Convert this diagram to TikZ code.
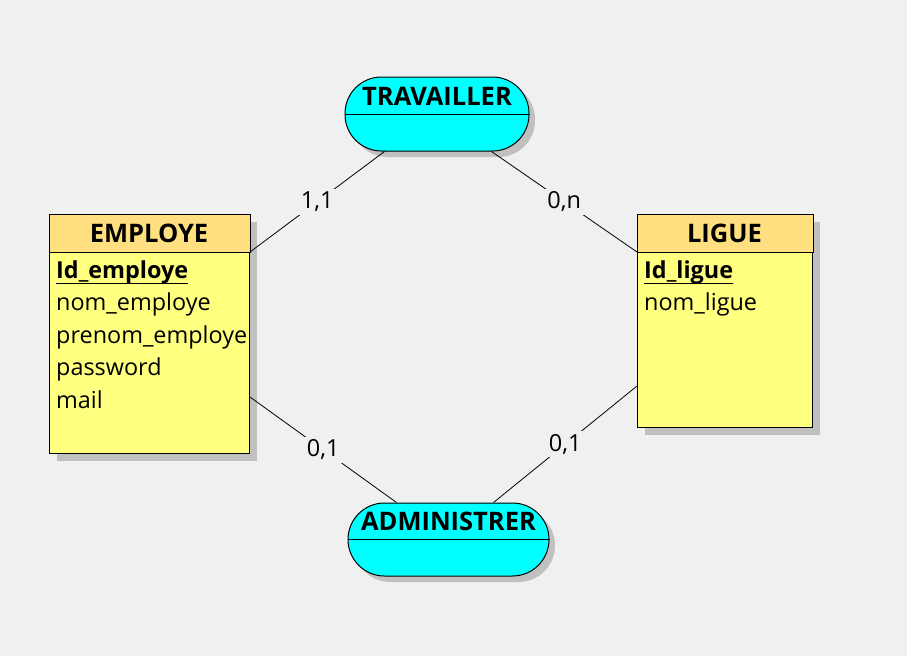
\documentclass[tikz,border=0pt]{standalone}
\usepackage{fontspec}
\setmainfont{Open Sans}
\usetikzlibrary{calc}
\definecolor{bg}{HTML}{F0F0F0}
\definecolor{hdr}{HTML}{FFDF80}
\definecolor{bodyc}{HTML}{FFFF80}
\definecolor{shad}{HTML}{C0C0C0}
\definecolor{relc}{HTML}{00FFFF}
\tikzset{
  entbox/.style={draw=black, fill=bodyc, line width=1pt, anchor=north west, inner sep=0pt},
  relbox/.style={draw=black, fill=relc, line width=1pt, rounded corners=36.5pt, inner sep=0pt},
  title/.style={font=\fontsize{25.5}{30}\selectfont\bfseries, inner sep=0pt},
  attr/.style={anchor=base west, inner sep=0pt},
  card/.style={fill=bg, inner sep=3pt, font=\fontsize{23.5}{28}\selectfont},
  link/.style={draw=black, line width=0.8pt}
}
\begin{document}
\begin{tikzpicture}[x=1pt,y=-1pt,font=\fontsize{23.4}{28}\selectfont]
\fill[bg] (0,0) rectangle (907,656);
\useasboundingbox (0,0) rectangle (907,656);
% shadows
\fill[shad] (57,222) rectangle (257,461);
\fill[shad] (645,222) rectangle (820,435);
\fill[shad, rounded corners=36.5pt] (351,83) rectangle (535,157);
\fill[shad, rounded corners=36.5pt] (354,509) rectangle (555,582);
% EMPLOYE
\node[entbox, minimum width=200pt, minimum height=239pt] (emp) at (49,214) {};
\filldraw[fill=hdr, draw=black, line width=1pt] (emp.north west) rectangle ($(emp.north east)+(0,38)$);
\node[title] (empt) at (149,233) {EMPLOYE};
\node[attr] (empid) at (56,278) {\bfseries Id\_employe};
\draw[line width=1pt] ($(empid.base west)+(0,5)$) -- ($(empid.base east)+(0,5)$);
\node[attr] (empnom) at (56,310.5) {nom\_employe};
\node[attr] (emppre) at (56,343) {prenom\_employe};
\node[attr] (emppw) at (56,375.5) {password};
\node[attr] (empmail) at (56,408) {mail};
% LIGUE
\node[entbox, minimum width=175pt, minimum height=213pt] (lig) at (637,214) {};
\filldraw[fill=hdr, draw=black, line width=1pt] (lig.north west) rectangle ($(lig.north east)+(0,38)$);
\node[title] (ligt) at (724.5,233) {LIGUE};
\node[attr] (ligid) at (644,278) {\bfseries Id\_ligue};
\draw[line width=1pt] ($(ligid.base west)+(0,5)$) -- ($(ligid.base east)+(0,5)$);
\node[attr] (lignom) at (644,310.5) {nom\_ligue};
% TRAVAILLER
\node[relbox, minimum width=184pt, minimum height=74pt] (trav) at (437,114) {};
\draw[line width=1pt] (trav.west) -- (trav.east);
\node[title] (travt) at (437,96) {TRAVAILLER};
% ADMINISTRER
\node[relbox, minimum width=201pt, minimum height=73pt] (adm) at (448.5,539.5) {};
\draw[line width=1pt] (adm.west) -- (adm.east);
\node[title] (admt) at (448.5,521) {ADMINISTRER};
% links
\draw[link] ($(trav.south west)+(40,0)$) -- node[card] {1,1} ($(emp.north east)+(0,38)$);
\draw[link] ($(trav.south east)+(-38,0)$) -- node[card] {0,n} ($(lig.north west)+(0,38)$);
\draw[link] ($(emp.north east)+(0,183)$) -- node[card] {0,1} ($(adm.north west)+(49,0)$);
\draw[link] ($(lig.north west)+(0,172)$) -- node[card] {0,1} ($(adm.north west)+(146,0)$);
\end{tikzpicture}
\end{document}
